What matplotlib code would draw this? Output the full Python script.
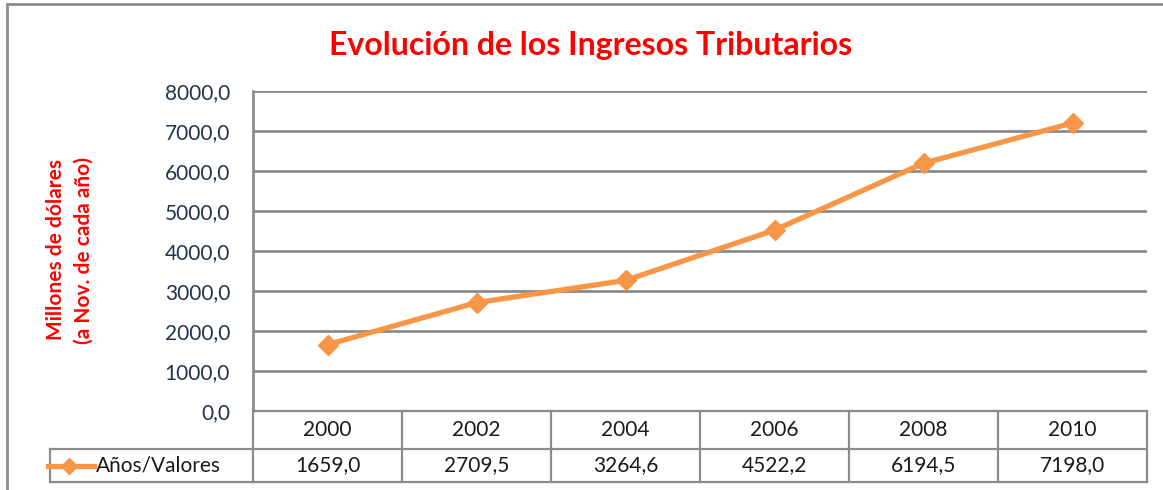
import matplotlib.pyplot as plt
import matplotlib.transforms as mtransforms
from matplotlib.lines import Line2D
from matplotlib.patches import Rectangle

# ---------------------------------------------------------------------------
# DATA
# ---------------------------------------------------------------------------
years = ["2000", "2002", "2004", "2006", "2008", "2010"]
values = [1659.0, 2709.5, 3264.6, 4522.2, 6194.5, 7198.0]
yticks = [0, 1000, 2000, 3000, 4000, 5000, 6000, 7000, 8000]
series_name = "Años/Valores"
title = "Evolución de los Ingresos Tributarios"
ylabel = "Millones de dólares\n(a Nov. de cada año)"

# ---------------------------------------------------------------------------
# STYLE
# ---------------------------------------------------------------------------
plt.rcParams['font.family'] = ['Lato', 'DejaVu Sans']
W, H = 1163, 490
orange = "#F79646"
grid_c = "#8C8C8C"
tick_c = "#243447"

fig = plt.figure(figsize=(W / 100, H / 100), dpi=100)

# outer chart border
fig.patches.append(Rectangle((7 / W, -0.1), 1.2, (H - 4) / H + 0.1,
                             transform=fig.transFigure, fill=False,
                             edgecolor="#8C8C8C", linewidth=2))

left, right, top, bottom = 253, 1147, 91, 411
ax = fig.add_axes([left / W, (H - bottom) / H, (right - left) / W, (bottom - top) / H])

x = list(range(len(years)))
ax.plot(x, values, color=orange, linewidth=3.8, marker="D", markersize=10,
        markeredgecolor=orange, markerfacecolor=orange, zorder=3)

ax.set_xlim(-0.5, len(years) - 0.5)
ax.set_ylim(0, 8000)
ax.set_yticks(yticks)
ax.set_yticklabels([("%.1f" % v).replace(".", ",") for v in yticks],
                   fontsize=15, color=tick_c)
ax.tick_params(axis="y", length=0, pad=16.5)
ax.set_xticks([])
ax.grid(axis="y", color=grid_c, linewidth=2)
ax.set_axisbelow(True)
for s in ["top", "right", "bottom"]:
    ax.spines[s].set_visible(False)
ax.spines["left"].set_color(grid_c)
ax.spines["left"].set_linewidth(2)

fig.text(591 / W, 1 - 45 / H, title, color="red", fontsize=23,
         fontweight="bold", ha="center", va="center")
fig.text(70 / W, 1 - 250 / H, ylabel, color="red", fontsize=15,
         fontweight="bold", ha="center", va="center", rotation=90,
         linespacing=1.45)

# ---------------------------------------------------------------------------
# DATA TABLE
# ---------------------------------------------------------------------------
ph = bottom - top
r1 = -(449 - bottom) / ph
r2 = -(482 - bottom) / ph
trans = mtransforms.blended_transform_factory(ax.transData, ax.transAxes)
lw = 1.6
xl = -0.5
xr = len(years) - 0.5
for yy in [0, r1, r2]:
    ax.add_line(Line2D([xl, xr], [yy, yy], transform=trans, color=grid_c,
                       linewidth=lw, clip_on=False))
for i in range(len(years) + 1):
    ax.add_line(Line2D([i - 0.5, i - 0.5], [0, r2], transform=trans,
                       color=grid_c, linewidth=lw, clip_on=False))
for i, (yr, v) in enumerate(zip(years, values)):
    ax.text(i, r1 / 2, yr, transform=trans, ha="center", va="center",
            fontsize=15, color="#1a1a1a")
    ax.text(i, (r1 + r2) / 2, ("%.1f" % v).replace(".", ","), transform=trans,
            ha="center", va="center", fontsize=15, color="#1a1a1a")

# legend key cell
yb1 = 1 - 449 / H
yb2 = 1 - 482 / H
fig.add_artist(Line2D([50 / W, left / W], [yb1, yb1], color=grid_c, linewidth=lw))
fig.add_artist(Line2D([50 / W, left / W], [yb2, yb2], color=grid_c, linewidth=lw))
fig.add_artist(Line2D([50 / W, 50 / W], [yb1, yb2], color=grid_c, linewidth=lw))
ym = (yb1 + yb2) / 2
fig.add_artist(Line2D([48 / W, 94 / W], [ym, ym], color=orange, linewidth=3.8))
fig.add_artist(Line2D([69 / W], [ym], color=orange, marker="D", markersize=8))
fig.text(96 / W, ym, series_name, ha="left", va="center", fontsize=15,
         color="#1a1a1a")

fig.savefig("out.png", dpi=100)
